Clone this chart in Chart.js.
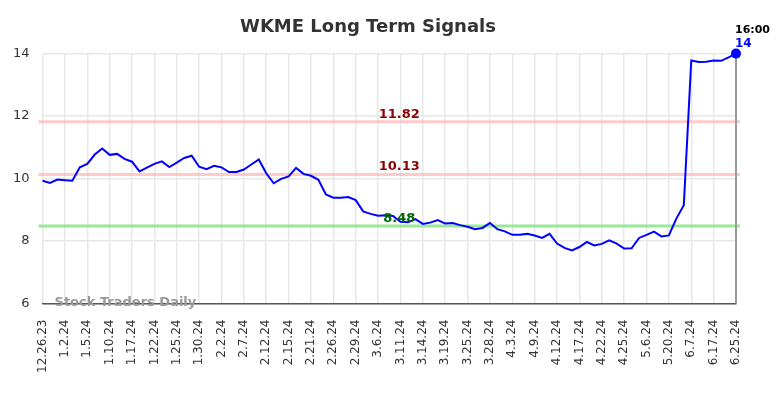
<!DOCTYPE html>
<html>
<head>
<meta charset="utf-8">
<script src="https://cdn.jsdelivr.net/npm/chart.js@4"></script>
<style>
  html, body { margin:0; padding:0; background:#fff; }
  #wrap { width:784px; height:398px; position:relative; }
</style>
</head>
<body>
<div id="wrap"><canvas id="chart"></canvas></div>
<script>
// WKME long term signals — daily close, one tick label every 3 points
var tickLabels = ['12.26.23','1.2.24','1.5.24','1.10.24','1.17.24','1.22.24','1.25.24','1.30.24',
  '2.2.24','2.7.24','2.12.24','2.15.24','2.21.24','2.26.24','2.29.24','3.6.24','3.11.24','3.14.24',
  '3.19.24','3.25.24','3.28.24','4.3.24','4.9.24','4.12.24','4.17.24','4.22.24','4.25.24','5.6.24',
  '5.20.24','6.7.24','6.17.24','6.25.24'];

var prices = [9.93,9.86,9.97,9.95,9.93,10.36,10.47,10.77,10.96,10.76,
  10.79,10.63,10.54,10.23,10.35,10.47,10.55,10.37,10.51,10.66,
  10.73,10.38,10.30,10.41,10.36,10.21,10.21,10.29,10.45,10.61,
  10.17,9.85,9.99,10.07,10.34,10.15,10.09,9.96,9.49,9.39,
  9.39,9.41,9.31,8.95,8.87,8.81,8.83,8.80,8.62,8.60,
  8.70,8.55,8.59,8.67,8.56,8.58,8.51,8.46,8.38,8.42,
  8.58,8.38,8.31,8.20,8.20,8.23,8.18,8.10,8.23,7.92,
  7.78,7.70,7.81,7.97,7.86,7.91,8.02,7.92,7.76,7.77,
  8.10,8.20,8.30,8.15,8.18,8.72,9.15,13.78,13.73,13.74,
  13.78,13.77,13.88,14.00];

var resistLevels = [11.82, 10.13];
var supportLevels = [8.48];
var lastTime = '16:00';
var TICK_EVERY = 3;

var labels = prices.map(function(p, i) {
  return i % TICK_EVERY === 0 ? (tickLabels[i / TICK_EVERY] || '') : '';
});

var FONT = '"DejaVu Sans", sans-serif';

var levelsPlugin = {
  id: 'levels',
  beforeDatasetsDraw: function(chart) {
    var ctx = chart.ctx, a = chart.chartArea, y = chart.scales.y, x = chart.scales.x;
    ctx.save();
    resistLevels.forEach(function(v) {
      ctx.strokeStyle = 'rgba(255,180,180,0.7)'; ctx.lineWidth = 3;
      ctx.beginPath(); ctx.moveTo(a.left - 4, y.getPixelForValue(v)); ctx.lineTo(a.right + 4, y.getPixelForValue(v)); ctx.stroke();
    });
    supportLevels.forEach(function(v) {
      ctx.strokeStyle = '#98e898'; ctx.lineWidth = 3;
      ctx.beginPath(); ctx.moveTo(a.left - 4, y.getPixelForValue(v)); ctx.lineTo(a.right + 4, y.getPixelForValue(v)); ctx.stroke();
    });
    // marker for the last bar
    var lx = x.getPixelForValue(prices.length - 1);
    ctx.strokeStyle = '#999'; ctx.lineWidth = 2;
    ctx.beginPath(); ctx.moveTo(lx, y.getPixelForValue(14)); ctx.lineTo(lx, a.bottom); ctx.stroke();
    ctx.font = 'bold 13px ' + FONT;
    ctx.fillStyle = '#999';
    ctx.textAlign = 'left'; ctx.textBaseline = 'middle';
    ctx.fillText('Stock Traders Daily', a.left + 12, a.bottom - 1);
    ctx.restore();
  },
  afterDatasetsDraw: function(chart) {
    var ctx = chart.ctx, a = chart.chartArea, y = chart.scales.y, x = chart.scales.x;
    var mid = (a.left + a.right) / 2 + 10;
    ctx.save();
    ctx.font = 'bold 13px ' + FONT;
    ctx.textAlign = 'center'; ctx.textBaseline = 'bottom';
    ctx.fillStyle = '#8b0000';
    resistLevels.forEach(function(v) { ctx.fillText(v.toFixed(2), mid, y.getPixelForValue(v) - 1); });
    ctx.fillStyle = '#006400';
    supportLevels.forEach(function(v) { ctx.fillText(v.toFixed(2), mid, y.getPixelForValue(v) - 1); });
    var lx = x.getPixelForValue(prices.length - 1);
    var ly = y.getPixelForValue(prices[prices.length - 1]);
    ctx.textAlign = 'left'; ctx.textBaseline = 'middle';
    ctx.font = 'bold 11px ' + FONT;
    ctx.fillStyle = '#000';
    ctx.fillText(lastTime, lx - 1, ly - 23);
    ctx.fillStyle = '#0000ff';
    ctx.font = 'bold 12px ' + FONT;
    ctx.fillText(String(prices[prices.length - 1]), lx - 1, ly - 10);
    ctx.restore();
  }
};

new Chart(document.getElementById('chart').getContext('2d'), {
  type: 'line',
  data: {
    labels: labels,
    datasets: [{
      data: prices,
      borderColor: '#0000ff',
      borderWidth: 2,
      tension: 0,
      clip: false,
      pointRadius: function(c) { return c.dataIndex === prices.length - 1 ? 4 : 0; },
      pointBackgroundColor: '#0000ff',
      pointBorderColor: '#0000ff',
      fill: false
    }]
  },
  plugins: [levelsPlugin],
  options: {
    responsive: true, maintainAspectRatio: false, animation: false,
    layout: { padding: { left: 0, right: 48, top: 8, bottom: 9 } },
    plugins: {
      legend: { display: false },
      tooltip: { enabled: false },
      title: {
        display: true, text: 'WKME Long Term Signals', color: '#333',
        font: { family: FONT, size: 18, weight: 'bold' },
        padding: { top: 9, bottom: 15 }
      }
    },
    scales: {
      x: {
        ticks: {
          autoSkip: false, minRotation: 90, maxRotation: 90, padding: 16,
          color: '#333', font: { family: FONT, size: 12 }
        },
        grid: {
          drawTicks: false,
          color: function(c) { return c.index % TICK_EVERY === 0 ? '#e8e8e8' : 'rgba(0,0,0,0)'; },
          lineWidth: 1.5
        },
        border: { display: true, color: '#555', width: 1.5 }
      },
      y: {
        min: 6, max: 14,
        ticks: { stepSize: 2, padding: 13, color: '#333', font: { family: FONT, size: 13 } },
        grid: { drawTicks: false, color: '#e8e8e8', lineWidth: 1.5 },
        border: { display: false }
      }
    }
  }
});
</script>
</body>
</html>
